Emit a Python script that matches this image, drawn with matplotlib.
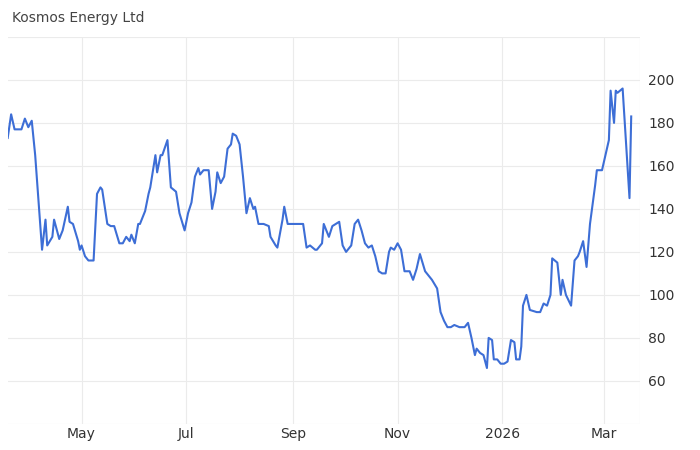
import matplotlib
matplotlib.use("Agg")
import matplotlib.pyplot as plt
import datetime as dt

start = dt.date(2025, 3, 19)
day_offsets = [0,2,4,8,10,12,14,16,20,22,23,26,27,30,32,35,36,38,41,42,43,45,47,50,52,54,55,58,60,62,65,67,69,71,72,74,76,77,80,82,83,86,87,89,90,93,95,98,100,103,105,107,109,111,112,114,117,119,121,122,124,126,128,130,131,133,135,137,139,141,143,144,146,149,152,153,156,157,160,161,163,169,172,
 174,176,179,180,183,184,185,187,189,191,193,195,197,200,202,204,206,208,210,212,214,216,218,220,222,223,225,227,229,231,234,236,238,240,243,245,247,250,252,254,256,258,260,263,266,268,270,272,273,275,277,279,280,282,283,285,287,289,291,293,295,296,298,
 299,300,302,304,308,310,312,314,316,317,320,322,323,325,328,330,332,333,335,337,339,342,343,346,348,350,351,353,354,355,358,362,363]
values = [173,184,177,177,182,178,181,165,121,135,123,127,135,126,130,141,134,133,125,121,123,118,116,116,147,150,149,133,132,132,124,124,127,125,128,124,133,133,139,147,150,165,157,165,165,172,150,148,138,130,138,143,155,159,156,158,158,140,148,157,152,155,168,170,175,174,170,155,138,145,140,141,133,133,132,127,123,122,135,141,133,133,133,
 122,123,121,121,124,133,131,127,132,133,134,123,120,123,133,135,130,124,122,123,118,111,110,110,120,122,121,124,121,111,111,107,112,119,111,109,107,103,92,88,85,85,86,85,85,87,80,72,75,73,72,66,80,79,70,70,68,68,69,79,78,70,70,76,
 95,100,93,92,92,96,95,100,117,115,100,107,100,95,116,118,120,125,113,133,151,158,158,165,172,195,180,195,194,196,145,183,182]
n = min(len(day_offsets), len(values))
dates = [start + dt.timedelta(days=d) for d in day_offsets[:n]]
values = values[:n]

tick_dates = [dt.date(2025,5,1), dt.date(2025,7,1), dt.date(2025,9,1), dt.date(2025,11,1), dt.date(2026,1,1), dt.date(2026,3,1)]
tick_labels = ["May", "Jul", "Sep", "Nov", "2026", "Mar"]
y_ticks = [60, 80, 100, 120, 140, 160, 180, 200]

fig = plt.figure(figsize=(7, 4.5), dpi=100)
ax = fig.add_axes([0.011, 0.058, 0.903, 0.86])
ax.plot(dates, values, color="#3d6ed6", lw=1.5)
ax.set_xlim(dt.date(2025,3,19), dt.date(2026,3,22))
ax.set_ylim(40, 220)
ax.set_xticks(tick_dates)
ax.set_xticklabels(tick_labels)
ax.set_yticks(y_ticks)
ax.yaxis.tick_right()
ax.tick_params(length=0, labelsize=10, colors="#333333")
ax.tick_params(axis="x", pad=2)
ax.tick_params(axis="y", pad=6)
ax.grid(True, color="#ebebeb", lw=0.8)
ax.axhline(220, color="#ebebeb", lw=0.8)
ax.axhline(40, color="#ebebeb", lw=0.8)
for s in ax.spines.values():
    s.set_visible(False)
ax.axvline(dt.date(2026,3,22), color="#ebebeb", lw=0.8)
fig.text(0.017, 0.96, "Kosmos Energy Ltd", fontsize=10, color="#444444", va="center")
fig.savefig("out.png")
